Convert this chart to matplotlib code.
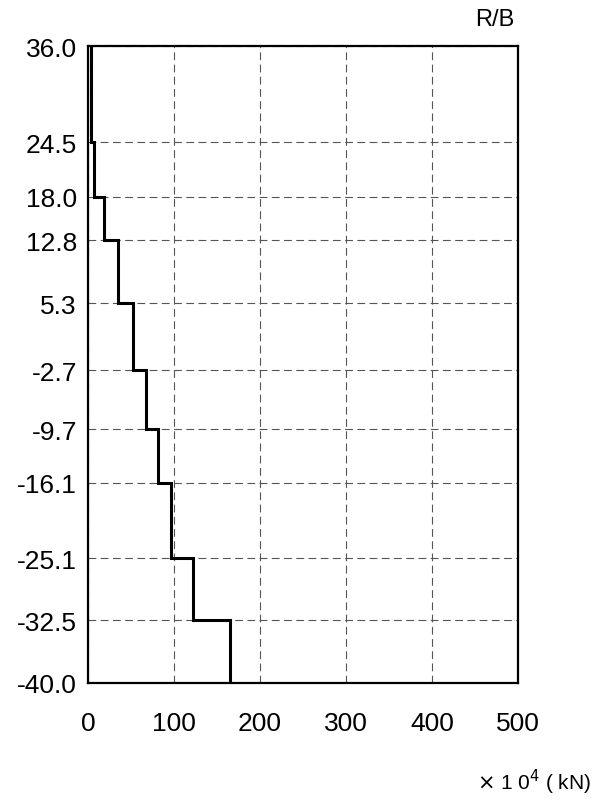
import numpy as np
import matplotlib.pyplot as plt
from matplotlib import font_manager

# story levels (m) and shear per segment (x 10^4 kN), top to bottom
levels = [36.0, 24.5, 18.0, 12.8, 5.3, -2.7, -9.7, -16.1, -25.1, -32.5, -40.0]
shear = [3, 7, 19, 35, 52, 67, 81, 97, 122, 165]
x_ticks = [0, 100, 200, 300, 400, 500]

names = {f.name for f in font_manager.fontManager.ttflist}
fam = 'Liberation Sans Narrow' if 'Liberation Sans Narrow' in names else 'Liberation Sans'
plt.rcParams['font.family'] = [fam, 'DejaVu Sans']

fig = plt.figure(figsize=(5.97, 8.04), dpi=100)
ax = fig.add_axes([0.1474, 0.1493, 0.7203, 0.7922])

edges = np.array(levels[::-1])
vals = np.array(shear[::-1])
ax.stairs(vals, edges, orientation='horizontal', baseline=None,
          color='black', linewidth=2.2, zorder=3)

ax.set_xlim(0, 500)
ax.set_ylim(-40, 36)
ax.set_xticks(x_ticks)
ax.set_yticks(levels)
ax.set_yticklabels(['%.1f' % v for v in levels])
ax.tick_params(length=0, labelsize=19, pad=8)
ax.tick_params(axis='x', pad=20)
ax.grid(True, color='#555555', linestyle=(0, (7, 4)), linewidth=0.8)
for s in ax.spines.values():
    s.set_linewidth(1.6)

fig.text(0.829, 0.975, 'R/B', fontsize=17, ha='center', va='center')
fig.text(0.99, 0.027, r'$\times$ 1 0$^{4}$ ( kN)', fontsize=15, ha='right', va='center')

plt.savefig('out.png', dpi=100)
